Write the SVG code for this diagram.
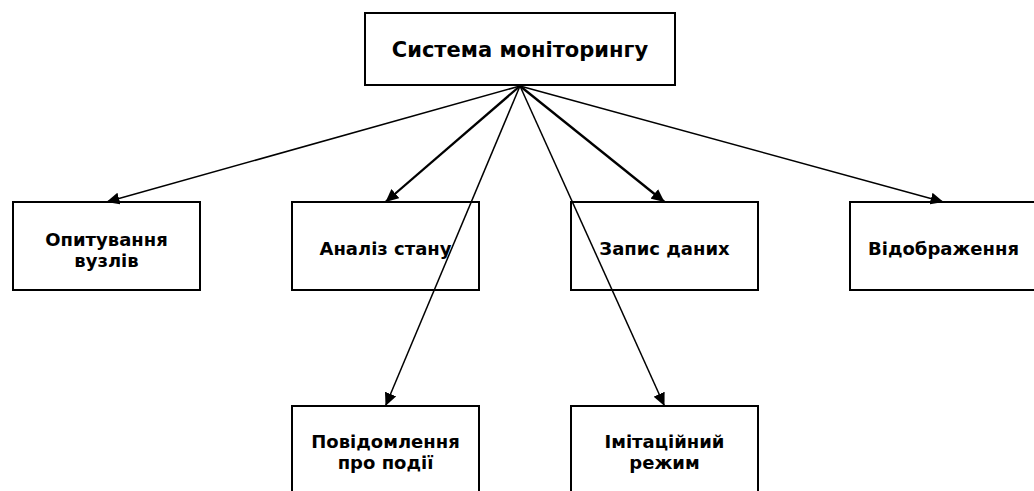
<svg xmlns="http://www.w3.org/2000/svg" width="1034" height="491" viewBox="0 0 1034 491">
<style>
.box{fill:#fff;stroke:#000;stroke-width:2}
.t{font-family:"DejaVu Sans",sans-serif;font-weight:bold;font-size:18px;fill:#000;text-anchor:middle}
.tt{font-size:21px}
.c{stroke:#000;fill:none;stroke-width:1.5}
.cb{stroke-width:2.3}
</style>
<defs>
<marker id="ah" markerUnits="userSpaceOnUse" markerWidth="14" markerHeight="12" refX="13" refY="6" orient="auto">
<path d="M0,0 L13,6 L0,12 Z" fill="#000"/>
</marker>
</defs>
<g id="root">
<rect class="box" x="365" y="13" width="310" height="72"/>
<text class="t tt" x="520" y="57">Система моніторингу</text>
</g>
<g id="n1">
<rect class="box" x="13" y="202" width="187" height="88"/>
<text class="t" x="106.5" y="246">Опитування</text>
<text class="t" x="106.5" y="267">вузлів</text>
</g>
<g id="n2">
<rect class="box" x="292" y="202" width="187" height="88"/>
<text class="t" x="385.5" y="255">Аналіз стану</text>
</g>
<g id="n3">
<rect class="box" x="571" y="202" width="187" height="88"/>
<text class="t" x="664.5" y="255">Запис даних</text>
</g>
<g id="n4">
<rect class="box" x="850" y="202" width="187" height="88"/>
<text class="t" x="943.5" y="255">Відображення</text>
</g>
<g id="n5">
<rect class="box" x="292" y="406" width="187" height="88"/>
<text class="t" x="385.5" y="448">Повідомлення</text>
<text class="t" x="385.5" y="469">про події</text>
</g>
<g id="n6">
<rect class="box" x="571" y="406" width="187" height="88"/>
<text class="t" x="664.5" y="448">Імітаційний</text>
<text class="t" x="664.5" y="469">режим</text>
</g>
<g id="connectors">
<line class="c" x1="520" y1="86" x2="106.5" y2="202" marker-end="url(#ah)"/>
<line class="c cb" x1="520" y1="86" x2="385.5" y2="202" marker-end="url(#ah)"/>
<line class="c cb" x1="520" y1="86" x2="664.5" y2="202" marker-end="url(#ah)"/>
<line class="c" x1="520" y1="86" x2="943.5" y2="202" marker-end="url(#ah)"/>
<line class="c" x1="520" y1="86" x2="385.5" y2="406" marker-end="url(#ah)"/>
<line class="c" x1="520" y1="86" x2="664.5" y2="406" marker-end="url(#ah)"/>
</g>
</svg>
